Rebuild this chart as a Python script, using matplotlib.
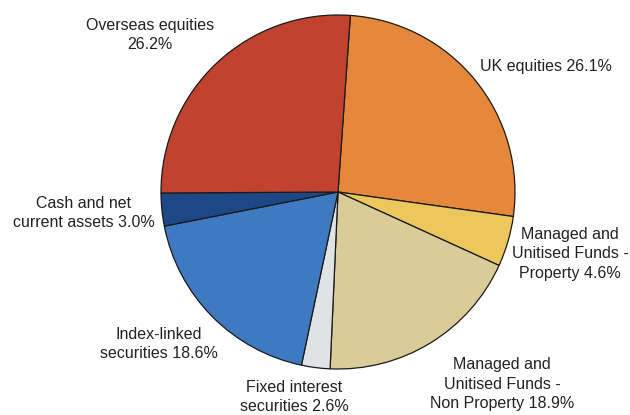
import matplotlib.pyplot as plt

plt.rcParams['font.family'] = ['Liberation Sans', 'DejaVu Sans']

# Dati (ordine orario a partire dall'alto)
labels = ['UK equities 26.1%',
          'Managed and\nUnitised Funds -\nProperty 4.6%',
          'Managed and\nUnitised Funds -\nNon Property 18.9%',
          'Fixed interest\nsecurities 2.6%',
          'Index-linked\nsecurities 18.6%',
          'Cash and net\ncurrent assets 3.0%',
          'Overseas equities\n26.2%']
values = [26.1, 4.6, 18.9, 2.6, 18.6, 3.0, 26.2]
colors = ['#e6883c', '#ecc75c', '#d9cc99', '#dfe3e4', '#3f79c2', '#1d4786', '#c1432f']

# Posizioni delle etichette in pixel (x, y dall'alto)
label_pos = [(546, 66), (570, 254), (502, 384), (294, 397),
             (159, 344), (84, 213), (150, 35)]

W, H = 630, 415
fig = plt.figure(figsize=(W / 100, H / 100), dpi=100)

cx, cy, r = 338, 192, 177
ax = fig.add_axes([(cx - r) / W, (H - cy - r) / H, 2 * r / W, 2 * r / H])
ax.pie(values, colors=colors, startangle=86, counterclock=False, radius=1,
       wedgeprops=dict(edgecolor='#1a1a1a', linewidth=0.9))
ax.set_xlim(-1.0, 1.0)
ax.set_ylim(-1.0, 1.0)
ax.set_aspect('auto')
ax.axis('off')

for lab, (x, y) in zip(labels, label_pos):
    fig.text(x / W, 1 - y / H, lab, ha='center', va='center', fontsize=11.5,
             color='#222222', linespacing=1.4)

fig.savefig('out.png', dpi=100)
